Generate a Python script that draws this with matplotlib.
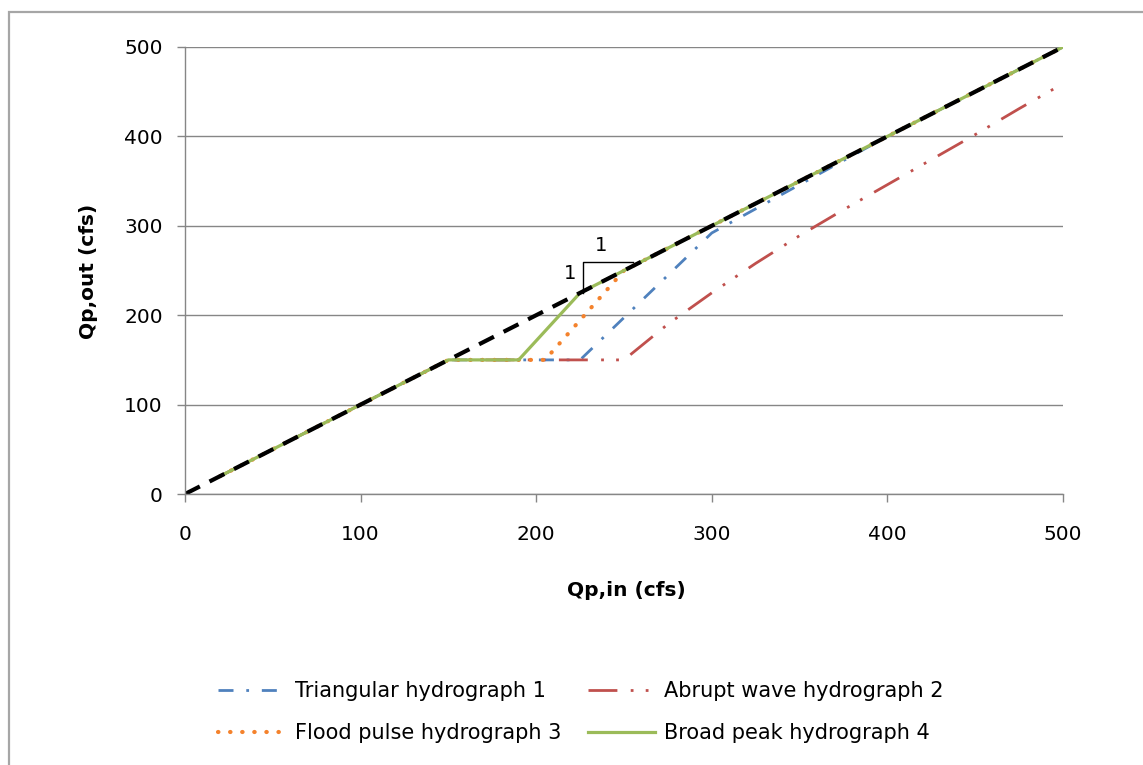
import numpy as np
import matplotlib
matplotlib.use('Agg')
import matplotlib.pyplot as plt
from matplotlib.patches import Rectangle

# Qp,in (cfs) vs Qp,out (cfs) for the four test hydrographs
x_tri = [20, 150, 225, 300, 350, 400, 500]
y_tri = [20, 150, 150, 292, 346, 400, 500]

x_abr = [20, 150, 250, 275, 300, 325, 350, 375, 400, 425, 450, 475, 500]
y_abr = [20, 150, 150, 190, 225, 258, 289, 318, 346, 374, 402, 431, 459]

x_flood = [20, 150, 205, 250, 500]
y_flood = [20, 150, 150, 250, 500]

x_broad = [20, 150, 190, 225, 500]
y_broad = [20, 150, 150, 225, 500]

# 1:1 line
x_one = [0, 500]
y_one = [0, 500]

ten_nhan = ['Triangular hydrograph 1', 'Abrupt wave hydrograph 2',
            'Flood pulse hydrograph 3', 'Broad peak hydrograph 4']
mau = ['#4F81BD', '#C0504D', '#F4822C', '#9BBB59']

W, H = 1143, 765
fig = plt.figure(figsize=(W / 100, H / 100), dpi=100)
ax = fig.add_axes([185 / W, 1 - 494 / H, 878 / W, 447 / H])

# khung ngoai cua bieu do
fig.patches.append(Rectangle((9 / W, -0.1), 1.2, 1 - 12 / H + 0.1,
                             transform=fig.transFigure, fill=False,
                             edgecolor='#A6A6A6', lw=1.6))

l1, = ax.plot(x_tri, y_tri, color=mau[0], lw=2, dash_capstyle='butt',
              linestyle=(0, (5.4, 4.6, 1, 4.6)))
l2, = ax.plot(x_abr, y_abr, color=mau[1], lw=2, dash_capstyle='butt',
              linestyle=(0, (10.4, 4.8, 1, 4.4, 1, 4.8)))
l3, = ax.plot(x_flood, y_flood, color=mau[2], lw=3, dash_capstyle='round',
              linestyle=(0, (0.1, 2.8)))
l4, = ax.plot(x_broad, y_broad, color=mau[3], lw=2.3)
ax.plot(x_one, y_one, color='black', lw=3, dash_capstyle='butt',
        linestyle=(0, (4, 2.6)))

# ky hieu do doc 1:1 tai diem gay cua duong 4
gx, gy = x_broad[3], y_broad[3]
ax.plot([gx + 1.5, gx + 1.5, gx + 30], [gy, gy + 34.5, gy + 34.5],
        color='black', lw=1)
ax.text(gx - 6, gy + 22, '1', fontsize=14, ha='center', va='center')
ax.text(gx + 12, gy + 53, '1', fontsize=14, ha='center', va='center')

ax.set_xlim(0, 500)
ax.set_ylim(0, 500)
ax.set_xticks(np.arange(0, 501, 100))
ax.set_yticks(np.arange(0, 501, 100))
ax.grid(axis='y', color='#868686', lw=1)
ax.set_axisbelow(True)
for s in ['top', 'right']:
    ax.spines[s].set_visible(False)
for s in ['left', 'bottom']:
    ax.spines[s].set_color('#868686')
    ax.spines[s].set_linewidth(1)
ax.tick_params(axis='both', colors='#868686', labelcolor='black',
               labelsize=14.5, length=6, width=1, direction='out')
ax.tick_params(axis='x', pad=16)
ax.tick_params(axis='y', pad=10)
ax.margins(0)

fig.text(626 / W, 1 - 590 / H, 'Qp,in (cfs)', fontsize=14.5,
         fontweight='bold', ha='center', va='center')
fig.text(88 / W, 1 - 271 / H, 'Qp,out (cfs)', fontsize=14.5,
         fontweight='bold', ha='center', va='center', rotation=90)

fig.legend([l1, l3, l2, l4], [ten_nhan[0], ten_nhan[2], ten_nhan[1], ten_nhan[3]],
           ncol=2, loc='center', bbox_to_anchor=(581 / W, 1 - 712 / H),
           frameon=False, fontsize=15, handlelength=3.2, handletextpad=0.45,
           columnspacing=1.3, labelspacing=1.05)

fig.savefig('out.png', dpi=100)
